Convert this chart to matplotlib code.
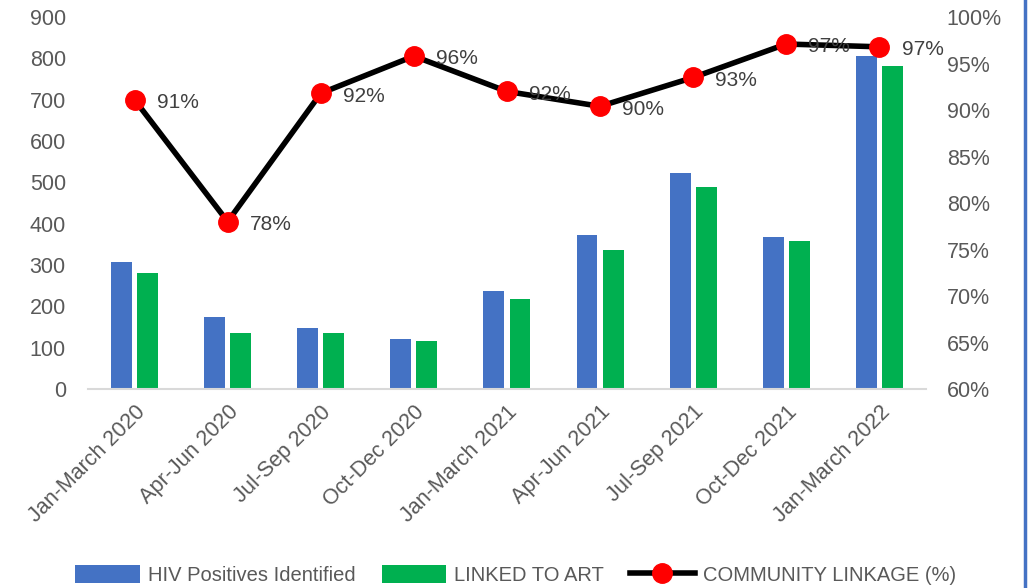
import numpy as np
import matplotlib
matplotlib.use('Agg')
import matplotlib.pyplot as plt
import matplotlib.ticker as mtick
from matplotlib.lines import Line2D

quarters = ["Jan-March 2020", "Apr-Jun 2020", "Jul-Sep 2020", "Oct-Dec 2020",
            "Jan-March 2021", "Apr-Jun 2021", "Jul-Sep 2021", "Oct-Dec 2021",
            "Jan-March 2022"]
hiv_positives = [307, 174, 148, 121, 237, 373, 523, 368, 806]
linked_to_art = [280, 135, 135, 116, 218, 336, 489, 358, 781]
linkage_pct = [91.1, 78.0, 91.8, 95.8, 92.0, 90.4, 93.5, 97.1, 96.8]
linkage_labels = ["91%", "78%", "92%", "96%", "92%", "90%", "93%", "97%", "97%"]

plt.rcParams['font.family'] = ['Liberation Sans', 'DejaVu Sans']
grey = '#595959'

fig = plt.figure(figsize=(10.31, 5.88), dpi=100)
ax = fig.add_axes([0.0854, 0.3384, 0.8126, 0.6326])
x = np.arange(len(quarters))
w = 0.225
ax.bar(x - 0.14, hiv_positives, width=w, color='#4472c4', label='HIV Positives Identified')
ax.bar(x + 0.14, linked_to_art, width=w, color='#00b050', label='LINKED TO ART')
ax.set_xlim(-0.5, len(quarters) - 0.5)
ax.set_ylim(0, 900)
ax.set_yticks(range(0, 901, 100))
for s in ['top', 'right', 'left']:
    ax.spines[s].set_visible(False)
ax.spines['bottom'].set_color('#d9d9d9')
ax.spines['bottom'].set_linewidth(1.5)
ax.tick_params(axis='y', length=0, labelsize=15.5, labelcolor=grey, pad=16)
ax.tick_params(axis='x', length=0, labelsize=15.5, labelcolor=grey, pad=9)
ax.set_xticks(x)
ax.set_xticklabels(quarters, rotation=45, ha='right', rotation_mode='anchor')

ax2 = ax.twinx()
ax2.plot(x, linkage_pct, color='black', lw=4, marker='o', markersize=14,
         markerfacecolor='red', markeredgecolor='red', label='COMMUNITY LINKAGE (%)')
for xi, yi, lab in zip(x, linkage_pct, linkage_labels):
    ax2.annotate(lab, (xi, yi), xytext=(16, -2), textcoords='offset points',
                 fontsize=15, color='#404040', va='center', ha='left')
ax2.set_ylim(60, 100)
ax2.set_yticks(range(60, 101, 5))
ax2.yaxis.set_major_formatter(mtick.FormatStrFormatter('%d%%'))
for s in ['top', 'right', 'left', 'bottom']:
    ax2.spines[s].set_visible(False)
ax2.tick_params(axis='y', length=0, labelsize=15.5, labelcolor=grey, pad=15)

h1, l1 = ax.get_legend_handles_labels()
h2, l2 = ax2.get_legend_handles_labels()
fig.legend(h1 + h2, l1 + l2, loc='lower center', bbox_to_anchor=(0.5, -0.025),
           ncol=3, frameon=False, fontsize=14.5, labelcolor=grey,
           handlelength=3.2, handleheight=1.0, columnspacing=1.3, handletextpad=0.4)

fig.add_artist(Line2D([0.9945, 0.9945], [0, 1], color='#4472c4', lw=2.5))

plt.savefig("out.png")
